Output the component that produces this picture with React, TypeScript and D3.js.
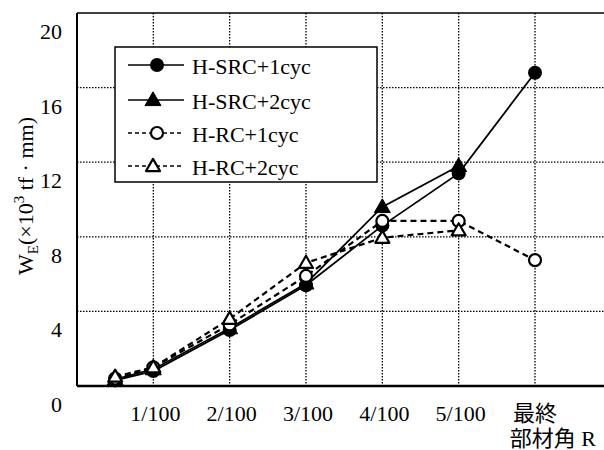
import React from "react";
import * as d3 from "d3";

const xPositions = [0.5, 1, 2, 3, 4, 5, 6];
const srcCyc1 = [0.3, 0.8, 3.0, 5.4, 8.6, 11.4, 16.8];
const srcCyc2 = [0.35, 0.9, 3.1, 5.5, 9.6, 11.8];
const rcCyc1 = [0.4, 1.0, 3.3, 5.9, 8.85, 8.85, 6.75];
const rcCyc2 = [0.5, 1.0, 3.6, 6.6, 7.95, 8.35];
const yTicks = [0, 4, 8, 12, 16, 20];
const xTickValues = [1, 2, 3, 4, 5];
const xTickLabels = ["1/100", "2/100", "3/100", "4/100", "5/100"];
const seriesNames = ["H-SRC+1cyc", "H-SRC+2cyc", "H-RC+1cyc", "H-RC+2cyc"];

const FONT = "Liberation Serif, Times New Roman, DejaVu Serif, Noto Sans CJK JP, serif";

type Series = { name: string; values: number[]; dashed: boolean; marker: "circle" | "triangle"; filled: boolean };

const series: Series[] = [
  { name: seriesNames[0], values: srcCyc1, dashed: false, marker: "circle", filled: true },
  { name: seriesNames[1], values: srcCyc2, dashed: false, marker: "triangle", filled: true },
  { name: seriesNames[2], values: rcCyc1, dashed: true, marker: "circle", filled: false },
  { name: seriesNames[3], values: rcCyc2, dashed: true, marker: "triangle", filled: false },
];

function Marker({ x, y, s }: { x: number; y: number; s: Series }) {
  if (s.marker === "circle") {
    return s.filled ? (
      <circle cx={x} cy={y} r={7} fill="#000" />
    ) : (
      <circle cx={x} cy={y} r={6} fill="#fff" stroke="#000" strokeWidth={2.2} />
    );
  }
  const sym = d3.symbol().type(d3.symbolTriangle).size(s.filled ? 110 : 85)();
  return (
    <path
      d={sym as string}
      transform={`translate(${x},${y + 1})`}
      fill={s.filled ? "#000" : "#fff"}
      stroke="#000"
      strokeWidth={s.filled ? 1 : 2.2}
      strokeLinejoin="round"
    />
  );
}

export default function App() {
  const W = 604, H = 450;
  const left = 77, right = 604, top = 13, bottom = 386;
  const x = d3.scaleLinear().domain([0, 6]).range([left, 535]);
  const y = d3.scaleLinear().domain([0, 20]).range([bottom, top]);
  const line = d3.line<[number, number]>().x((d) => x(d[0])).y((d) => y(d[1]));

  const legendRows = [65, 100, 133, 166];

  return (
    <svg width={W} height={H} style={{ position: "absolute", left: 0, top: 0, background: "#fff", fontFamily: FONT }}>
      <rect x={0} y={0} width={W} height={H} fill="#fff" />
      {/* grid */}
      {yTicks.filter((v) => v > 0 && v < 20).map((v) => (
        <line key={"gy" + v} x1={left} x2={right} y1={y(v)} y2={y(v)} stroke="#000" strokeWidth={1.3} strokeDasharray="1.5,1.5" />
      ))}
      {[1, 2, 3, 4, 5, 6].map((v) => (
        <line key={"gx" + v} x1={x(v)} x2={x(v)} y1={top} y2={bottom} stroke="#000" strokeWidth={1.3} strokeDasharray="1.5,1.5" />
      ))}
      {/* frame */}
      <line x1={left} x2={right} y1={top} y2={top} stroke="#000" strokeWidth={1.5} />
      <line x1={left} x2={left} y1={top} y2={bottom} stroke="#000" strokeWidth={2} />
      <line x1={left} x2={right} y1={bottom} y2={bottom} stroke="#000" strokeWidth={2.5} />

      {/* y tick labels */}
      {yTicks.map((v) => (
        <text key={"yt" + v} x={62} y={y(v) + 26} fontSize={22} textAnchor="end" style={{ fontFamily: FONT }}>
          {v}
        </text>
      ))}
      {/* x tick labels */}
      {xTickValues.map((v, i) => (
        <text key={"xt" + v} x={x(v) + 2} y={421} fontSize={22} textAnchor="middle" style={{ fontFamily: FONT }}>
          {xTickLabels[i]}
        </text>
      ))}
      <text x={x(6)} y={421} fontSize={22} textAnchor="middle" style={{ fontFamily: FONT }}>最終</text>
      <text x={596} y={446} fontSize={22} textAnchor="end" style={{ fontFamily: FONT }}>部材角 R</text>

      {/* y label */}
      <text transform="translate(33,196) rotate(-90)" fontSize={22} textAnchor="middle" style={{ fontFamily: FONT }}>
        W<tspan fontSize={15} dy={5}>E</tspan>
        <tspan dy={-5}>(×10</tspan>
        <tspan fontSize={15} dy={-9}>3</tspan>
        <tspan dy={9}> tf · mm)</tspan>
      </text>

      {/* series lines */}
      {series.map((s) => {
        const pts = s.values.map((v, i) => [xPositions[i], v] as [number, number]);
        return (
          <path
            key={"l" + s.name}
            d={line(pts) as string}
            fill="none"
            stroke="#000"
            strokeWidth={s.dashed ? 2.2 : 1.8}
            strokeDasharray={s.dashed ? "6,4" : undefined}
          />
        );
      })}
      {series.map((s) =>
        s.values.map((v, i) => <Marker key={s.name + i} x={x(xPositions[i])} y={y(v)} s={s} />)
      )}

      {/* legend */}
      <rect x={115} y={47} width={262} height={135} fill="#fff" stroke="#000" strokeWidth={1.5} />
      {series.map((s, i) => (
        <g key={"lg" + s.name}>
          <line
            x1={128}
            x2={184}
            y1={legendRows[i]}
            y2={legendRows[i]}
            stroke="#000"
            strokeWidth={s.dashed ? 1.5 : 1.6}
            strokeDasharray={s.dashed ? "4,3" : undefined}
          />
          <Marker x={s.marker === "circle" ? 157 : 153} y={legendRows[i]} s={s} />
          <text x={192} y={legendRows[i] + 9} fontSize={22} style={{ fontFamily: FONT }}>
            {s.name}
          </text>
        </g>
      ))}
    </svg>
  );
}
